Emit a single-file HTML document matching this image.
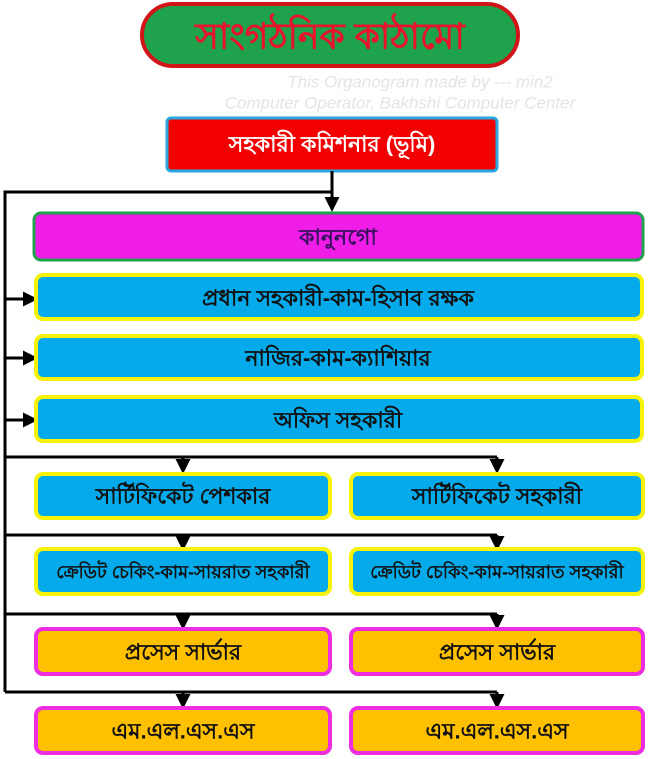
<!DOCTYPE html>
<html><head><meta charset="utf-8"><style>
html,body{margin:0;padding:0;background:#fff;}
svg{display:block;}
text{font-family:"Liberation Sans",sans-serif;text-anchor:middle;dominant-baseline:central;}
</style></head><body>
<svg width="648" height="759" viewBox="0 0 648 759" xmlns="http://www.w3.org/2000/svg">
<defs>
<marker id="a" markerWidth="5" markerHeight="5" refX="4" refY="2.5" orient="auto" markerUnits="strokeWidth"><path d="M0,0 L5,2.5 L0,5 z" fill="#000"/></marker>
</defs>
<rect x="142" y="4" width="376" height="62" rx="31" fill="#1ea24c" stroke="#d01418" stroke-width="4"/>
<text x="330" y="36" font-size="36" font-weight="bold" fill="#e8152a">সাংগঠনিক কাঠামো</text>
<g fill="#e4e4e4" font-style="italic" font-size="17">
<text x="420" y="82">This Organogram made by --- min2</text>
<text x="400" y="103">Computer Operator, Bakhshi Computer Center</text>
</g>
<rect x="167" y="118" width="330" height="53" rx="4" fill="#f20000" stroke="#2aa7df" stroke-width="3"/>
<text x="332" y="144" font-size="22" font-weight="bold" fill="#fff">সহকারী কমিশনার (ভূমি)</text>
<g stroke="#000" stroke-width="3" fill="none">
<line x1="332" y1="171" x2="332" y2="209" marker-end="url(#a)"/>
<polyline points="332,192 5,192 5,692"/>
<line x1="5" y1="299" x2="35" y2="299" marker-end="url(#a)"/>
<line x1="5" y1="358" x2="35" y2="358" marker-end="url(#a)"/>
<line x1="5" y1="420" x2="35" y2="420" marker-end="url(#a)"/>
<polyline points="5,457 497,457"/>
<line x1="183" y1="457" x2="183" y2="471" marker-end="url(#a)"/>
<line x1="497" y1="457" x2="497" y2="471" marker-end="url(#a)"/>
<polyline points="5,535 497,535"/>
<line x1="183" y1="535" x2="183" y2="548" marker-end="url(#a)"/>
<line x1="497" y1="535" x2="497" y2="548" marker-end="url(#a)"/>
<polyline points="5,614 497,614"/>
<line x1="183" y1="614" x2="183" y2="627" marker-end="url(#a)"/>
<line x1="497" y1="614" x2="497" y2="627" marker-end="url(#a)"/>
<polyline points="5,692 497,692"/>
<line x1="183" y1="692" x2="183" y2="706" marker-end="url(#a)"/>
<line x1="497" y1="692" x2="497" y2="706" marker-end="url(#a)"/>
</g>
<rect x="34" y="213" width="609" height="47" rx="7" fill="#f01de8" stroke="#1ea24c" stroke-width="3"/>
<text x="338" y="237" font-size="22" font-weight="bold" fill="#3a1060">কানুনগো</text>
<g fill="#05aaea" stroke="#f6f20a" stroke-width="4">
<rect x="36" y="275" width="606" height="44" rx="7"/>
<rect x="36" y="336" width="606" height="43" rx="7"/>
<rect x="36" y="397" width="606" height="44" rx="7"/>
<rect x="36" y="474" width="294" height="44" rx="7"/>
<rect x="351" y="474" width="292" height="44" rx="7"/>
<rect x="36" y="549" width="294" height="45" rx="7"/>
<rect x="351" y="549" width="292" height="45" rx="7"/>
</g>
<g fill="#ffc000" stroke="#ee2ce0" stroke-width="4">
<rect x="36" y="629" width="294" height="45" rx="7"/>
<rect x="351" y="629" width="292" height="45" rx="7"/>
<rect x="36" y="708" width="294" height="45" rx="7"/>
<rect x="351" y="708" width="292" height="45" rx="7"/>
</g>
<g font-size="22" font-weight="bold" fill="#111">
<text x="338" y="298">প্রধান সহকারী-কাম-হিসাব রক্ষক</text>
<text x="338" y="358">নাজির-কাম-ক্যাশিয়ার</text>
<text x="338" y="420">অফিস সহকারী</text>
<text x="183" y="496">সার্টিফিকেট পেশকার</text>
<text x="497" y="496">সার্টিফিকেট সহকারী</text>
<text x="183" y="572" font-size="18">ক্রেডিট চেকিং-কাম-সায়রাত সহকারী</text>
<text x="497" y="572" font-size="18">ক্রেডিট চেকিং-কাম-সায়রাত সহকারী</text>
<text x="183" y="652">প্রসেস সার্ভার</text>
<text x="497" y="652">প্রসেস সার্ভার</text>
<text x="183" y="731">এম.এল.এস.এস</text>
<text x="497" y="731">এম.এল.এস.এস</text>
</g>
</svg>
</body></html>
